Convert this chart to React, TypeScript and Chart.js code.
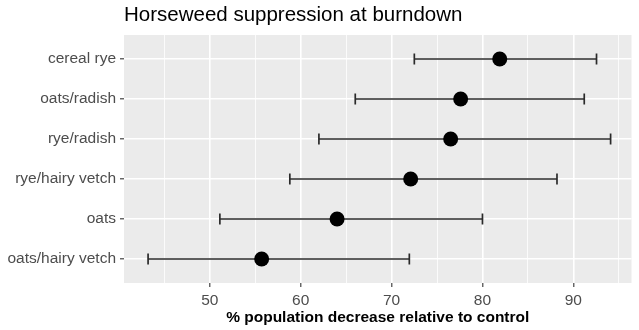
import React, { useEffect, useRef } from "react";
import { Chart, registerables } from "chart.js";

Chart.register(...registerables);

const categories = ["cereal rye", "oats/radish", "rye/radish", "rye/hairy vetch", "oats", "oats/hairy vetch"];
const means = [81.9, 77.6, 76.5, 72.1, 64.0, 55.7];
const lowers = [72.5, 66.0, 62.0, 58.8, 51.1, 43.2];
const uppers = [92.55, 91.2, 94.1, 88.2, 80.0, 71.95];
const xTicks = [45, 50, 55, 60, 65, 70, 75, 80, 85, 90, 95];
const titleText = "Horseweed suppression at burndown";
const xTitle = "% population decrease relative to control";

const FONT = "'Liberation Sans', Arial, Helvetica, sans-serif";

const panelBg = {
  id: "panelBg",
  beforeDraw(chart: any) {
    const { ctx, chartArea } = chart;
    if (!chartArea) return;
    ctx.save();
    ctx.fillStyle = "#EBEBEB";
    ctx.fillRect(chartArea.left, chartArea.top, chartArea.right - chartArea.left, chartArea.bottom - chartArea.top);
    ctx.restore();
  },
};

export default function App() {
  const ref = useRef<HTMLCanvasElement | null>(null);
  useEffect(() => {
    if (!ref.current) return;
    const barColor = "#2a2a2a";
    const errorSets = categories.map((c, i) => ({
      label: c + " range",
      data: [
        { x: lowers[i], y: i + 1 },
        { x: uppers[i], y: i + 1 },
      ],
      showLine: true,
      borderColor: barColor,
      borderWidth: 1.7,
      pointStyle: "line",
      rotation: 90,
      pointRadius: 5.5,
      pointBorderWidth: 1.7,
      pointBorderColor: barColor,
      pointBackgroundColor: barColor,
      order: 2,
    }));
    const chart = new Chart(ref.current, {
      type: "scatter",
      data: {
        datasets: [
          {
            label: "mean",
            data: categories.map((c, i) => ({ x: means[i], y: i + 1 })),
            pointRadius: 7.5,
            pointBackgroundColor: "#000",
            pointBorderWidth: 0,
            order: 0,
          },
          ...errorSets,
        ] as any,
      },
      options: {
        animation: false,
        responsive: false,
        layout: { padding: 0 },
        plugins: {
          legend: { display: false },
          tooltip: { enabled: false },
          title: {
            display: true,
            text: titleText,
            align: "start",
            fullSize: false,
            color: "#000",
            font: { family: FONT, size: 20.5, weight: "normal" },
            padding: { top: 2.7, bottom: 7.7 },
          },
        },
        scales: {
          x: {
            type: "linear",
            min: 40.55,
            max: 96.4,
            afterBuildTicks: (scale: any) => {
              scale.ticks = xTicks.map((v) => ({ value: v }));
            },
            afterFit: (scale: any) => {
              scale.height = 47;
            },
            border: { display: false },
            grid: {
              color: "#ffffff",
              lineWidth: (ctx: any) => (ctx.tick && ctx.tick.value % 10 === 0 ? 1.6 : 0.8),
              tickColor: (ctx: any) => (ctx.tick && ctx.tick.value % 10 === 0 ? "#333333" : "rgba(0,0,0,0)"),
              tickLength: 4,
              tickWidth: 1.1,
            },
            ticks: {
              autoSkip: false,
              maxRotation: 0,
              padding: 4,
              color: "#4d4d4d",
              font: { family: FONT, size: 15.5 },
              callback: (v: any) => (Number(v) % 10 === 0 ? String(v) : ""),
            },
            title: {
              display: true,
              text: xTitle,
              color: "#000",
              font: { family: FONT, size: 15.5, weight: "bold" },
              padding: { top: 0, bottom: 2.5 },
            },
          },
          y: {
            type: "linear",
            min: 0.4,
            max: 6.6,
            reverse: true,
            afterBuildTicks: (scale: any) => {
              scale.ticks = categories.map((c, i) => ({ value: i + 1 }));
            },
            afterFit: (scale: any) => {
              scale.width = 124;
            },
            border: { display: false },
            grid: {
              color: "#ffffff",
              lineWidth: 1.6,
              tickColor: "#333333",
              tickLength: 4,
              tickWidth: 1.1,
            },
            ticks: {
              autoSkip: false,
              padding: 4,
              color: "#4d4d4d",
              font: { family: FONT, size: 15.5 },
              callback: (v: any) => categories[Math.round(Number(v)) - 1] ?? "",
            },
          },
        },
      } as any,
      plugins: [panelBg],
    });
    return () => chart.destroy();
  }, []);
  return (
    <div style={{ position: "fixed", left: 0, top: 0, width: 639, height: 330, background: "#fff" }}>
      <canvas ref={ref} width={639} height={330} style={{ display: "block", width: 639, height: 330 }} />
    </div>
  );
}
